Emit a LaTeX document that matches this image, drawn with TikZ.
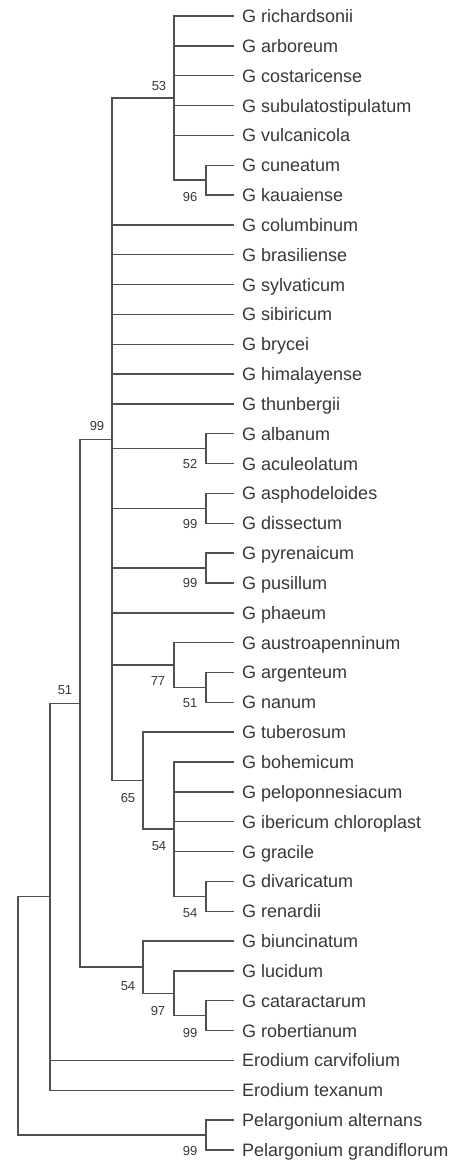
\documentclass[tikz,border=0pt]{standalone}
\usepackage{fontspec}
\setmainfont{Liberation Sans}
\definecolor{lc}{RGB}{80,80,80}
\definecolor{tc}{RGB}{55,55,55}
\begin{document}
\begin{tikzpicture}[x=1pt,y=-1pt,
  leaf/.style={anchor=west,inner xsep=9pt,inner ysep=0pt,text height=13pt,text depth=0pt,font=\fontsize{18}{20}\selectfont,text=tc},
  bs/.style={inner sep=0pt,font=\fontsize{13}{14}\selectfont,text=tc},
  br/.style={draw=lc,line width=1.4pt,line cap=rect}]
\useasboundingbox (0,0) rectangle (458,1165);
% leaves
\node[leaf] (l1)  at (233,16)      {G richardsonii};
\node[leaf] (l2)  at (233,45.84)   {G arboreum};
\node[leaf] (l3)  at (233,75.68)   {G costaricense};
\node[leaf] (l4)  at (233,105.52)  {G subulatostipulatum};
\node[leaf] (l5)  at (233,135.36)  {G vulcanicola};
\node[leaf] (l6)  at (233,165.2)   {G cuneatum};
\node[leaf] (l7)  at (233,195.04)  {G kauaiense};
\node[leaf] (l8)  at (233,224.88)  {G columbinum};
\node[leaf] (l9)  at (233,254.72)  {G brasiliense};
\node[leaf] (l10) at (233,284.56)  {G sylvaticum};
\node[leaf] (l11) at (233,314.4)   {G sibiricum};
\node[leaf] (l12) at (233,344.24)  {G brycei};
\node[leaf] (l13) at (233,374.08)  {G himalayense};
\node[leaf] (l14) at (233,403.92)  {G thunbergii};
\node[leaf] (l15) at (233,433.76)  {G albanum};
\node[leaf] (l16) at (233,463.6)   {G aculeolatum};
\node[leaf] (l17) at (233,493.44)  {G asphodeloides};
\node[leaf] (l18) at (233,523.28)  {G dissectum};
\node[leaf] (l19) at (233,553.12)  {G pyrenaicum};
\node[leaf] (l20) at (233,582.96)  {G pusillum};
\node[leaf] (l21) at (233,612.8)   {G phaeum};
\node[leaf] (l22) at (233,642.64)  {G austroapenninum};
\node[leaf] (l23) at (233,672.48)  {G argenteum};
\node[leaf] (l24) at (233,702.32)  {G nanum};
\node[leaf] (l25) at (233,732.16)  {G tuberosum};
\node[leaf] (l26) at (233,762)     {G bohemicum};
\node[leaf] (l27) at (233,791.84)  {G peloponnesiacum};
\node[leaf] (l28) at (233,821.68)  {G ibericum chloroplast};
\node[leaf] (l29) at (233,851.52)  {G gracile};
\node[leaf] (l30) at (233,881.36)  {G divaricatum};
\node[leaf] (l31) at (233,911.2)   {G renardii};
\node[leaf] (l32) at (233,941.04)  {G biuncinatum};
\node[leaf] (l33) at (233,970.88)  {G lucidum};
\node[leaf] (l34) at (233,1000.72) {G cataractarum};
\node[leaf] (l35) at (233,1030.56) {G robertianum};
\node[leaf] (l36) at (233,1060.4)  {Erodium carvifolium};
\node[leaf] (l37) at (233,1090.24) {Erodium texanum};
\node[leaf] (l38) at (233,1120.08) {Pelargonium alternans};
\node[leaf] (l39) at (233,1149.92) {Pelargonium grandiflorum};
% internal nodes
\coordinate (n96)  at (206,180.12);
\coordinate (n53)  at (174,98.06);
\coordinate (n52)  at (206,448.68);
\coordinate (n99b) at (206,508.36);
\coordinate (n99c) at (206,568.04);
\coordinate (n51b) at (206,687.4);
\coordinate (n77)  at (174,665.02);
\coordinate (n54c) at (206,896.28);
\coordinate (n54b) at (174,829.14);
\coordinate (n65)  at (143,780.65);
\coordinate (n99a) at (112,439.36);
\coordinate (n99d) at (206,1015.64);
\coordinate (n97)  at (174,993.26);
\coordinate (n54d) at (143,967.15);
\coordinate (n51)  at (80,703.25);
\coordinate (nE)   at (50,896.75);
\coordinate (nP)   at (206,1135);
\coordinate (nR)   at (18,1015.9);
% cherries
\draw[br] (l6.west) -| (n96) |- (l7.west);
\draw[br] (l15.west) -| (n52) |- (l16.west);
\draw[br] (l17.west) -| (n99b) |- (l18.west);
\draw[br] (l19.west) -| (n99c) |- (l20.west);
\draw[br] (l23.west) -| (n51b) |- (l24.west);
\draw[br] (l30.west) -| (n54c) |- (l31.west);
\draw[br] (l34.west) -| (n99d) |- (l35.west);
\draw[br] (l38.west) -| (nP) |- (l39.west);
% clade 53
\draw[br] (n53 |- l1.west) -- (n53 |- n96);
\foreach \c in {l1,l2,l3,l4,l5} \draw[br] (n53 |- \c.west) -- (\c.west);
\draw[br] (n53 |- n96) -- (n96);
% clade 77
\draw[br] (l22.west) -| (n77) |- (n51b);
% clade 54b
\draw[br] (n54b |- l26.west) -- (n54b |- n54c) -- (n54c);
\foreach \c in {l26,l27,l28,l29} \draw[br] (n54b |- \c.west) -- (\c.west);
% clade 65
\draw[br] (l25.west) -| (n65) |- (n54b);
% clade 97 and 54d
\draw[br] (l33.west) -| (n97) |- (n99d);
\draw[br] (l32.west) -| (n54d) |- (n97);
% main polytomy 99
\draw[br] (n99a |- n53) -- (n99a |- n65);
\foreach \c in {n53,n52,n99b,n99c,n77,n65} \draw[br] (n99a |- \c) -- (\c);
\foreach \c in {l8,l9,l10,l11,l12,l13,l14,l21} \draw[br] (n99a |- \c.west) -- (\c.west);
% node 51
\draw[br] (n99a) -| (n51) |- (n54d);
% Erodium node
\draw[br] (nE |- n51) -- (nE |- l37.west);
\draw[br] (nE |- n51) -- (n51);
\foreach \c in {l36,l37} \draw[br] (nE |- \c.west) -- (\c.west);
% root
\draw[br] (nE) -| (nR) |- (nP);
% bootstrap labels
\node[bs] (b53)  at (159,86)   {53};
\node[bs] (b96)  at (190,197)  {96};
\node[bs] (b99a) at (97,426)   {99};
\node[bs] (b52)  at (190,464)  {52};
\node[bs] (b99b) at (190,524)  {99};
\node[bs] (b99c) at (190,583)  {99};
\node[bs] (b77)  at (158,681)  {77};
\node[bs] (b51b) at (190,703)  {51};
\node[bs] (b51)  at (65,690)   {51};
\node[bs] (b65)  at (128,798)  {65};
\node[bs] (b54b) at (159,846)  {54};
\node[bs] (b54c) at (190,913)  {54};
\node[bs] (b54d) at (128,986)  {54};
\node[bs] (b97)  at (158,1011) {97};
\node[bs] (b99d) at (190,1033) {99};
\node[bs] (b99e) at (190,1151) {99};
\end{tikzpicture}
\end{document}
